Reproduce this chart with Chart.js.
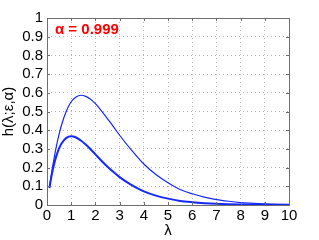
<!DOCTYPE html>
<html>
<head>
<meta charset="utf-8">
<script src="https://cdn.jsdelivr.net/npm/chart.js@4"></script>
<style>
  html, body { margin: 0; padding: 0; background: #fff; }
  #wrap { width: 319px; height: 240px; }
</style>
</head>
<body>
<div id="wrap"><canvas id="hChart" width="319" height="240"></canvas></div>
<script>
// values
const lambdas = [0.1, 0.2, 0.3, 0.4, 0.5, 0.6, 0.8, 1.0, 1.2, 1.4, 1.6, 1.8, 2.0, 2.25, 2.5, 2.75,
                 3.0, 3.5, 4.0, 4.5, 5.0, 5.5, 6.0, 6.5, 7.0, 7.5, 8.0, 8.5, 9.0, 9.5, 10.0];
const upperCurve = [0.095, 0.18, 0.255, 0.322, 0.379, 0.428, 0.503, 0.552, 0.578, 0.587, 0.581, 0.566,
                    0.542, 0.504, 0.461, 0.418, 0.373, 0.292, 0.219, 0.163, 0.119, 0.083, 0.06, 0.042,
                    0.029, 0.02, 0.013, 0.009, 0.006, 0.004, 0.003];
const lowerCurve = [0.09, 0.164, 0.222, 0.268, 0.303, 0.329, 0.359, 0.368, 0.361, 0.345, 0.323, 0.298,
                    0.271, 0.237, 0.205, 0.176, 0.149, 0.106, 0.073, 0.05, 0.034, 0.022, 0.015, 0.01,
                    0.0064, 0.0042, 0.0027, 0.0017, 0.0011, 0.0007, 0.0005];
const annotation = "\u03b1 = 0.999";

const toPoints = (ys) => lambdas.map((x, i) => ({ x: x, y: ys[i] }));

const FONT = "'Liberation Sans', Arial, sans-serif";

// MATLAB style box with inward ticks + red label
const boxPlugin = {
  id: 'matlabBox',
  afterDraw(chart) {
    const ctx = chart.ctx;
    const a = chart.chartArea;
    const xs = chart.scales.x, ys = chart.scales.y;
    ctx.save();
    ctx.strokeStyle = '#6e6e6e';
    ctx.lineWidth = 1;
    ctx.strokeRect(Math.round(a.left) + 0.5, Math.round(a.top) + 0.5,
                   Math.round(a.right - a.left), Math.round(a.bottom - a.top));
    const t = 3;
    ctx.beginPath();
    xs.ticks.forEach(tk => {
      const px = Math.round(xs.getPixelForValue(tk.value)) + 0.5;
      ctx.moveTo(px, a.bottom); ctx.lineTo(px, a.bottom - t);
      ctx.moveTo(px, a.top); ctx.lineTo(px, a.top + t);
    });
    ys.ticks.forEach(tk => {
      const py = Math.round(ys.getPixelForValue(tk.value)) + 0.5;
      ctx.moveTo(a.left, py); ctx.lineTo(a.left + t, py);
      ctx.moveTo(a.right, py); ctx.lineTo(a.right - t, py);
    });
    ctx.stroke();

    ctx.fillStyle = '#ff0000';
    ctx.font = 'bold 15px ' + FONT;
    ctx.textBaseline = 'middle';
    ctx.textAlign = 'left';
    ctx.fillText(annotation, xs.getPixelForValue(0.33), ys.getPixelForValue(0.936));
    ctx.restore();
  }
};

new Chart(document.getElementById('hChart'), {
  type: 'line',
  data: {
    datasets: [
      {
        data: toPoints(upperCurve),
        borderColor: '#1428ff',
        borderWidth: 1.2,
        pointRadius: 0,
        cubicInterpolationMode: 'monotone'
      },
      {
        data: toPoints(lowerCurve),
        borderColor: '#1428ff',
        borderWidth: 2,
        pointRadius: 0,
        cubicInterpolationMode: 'monotone'
      }
    ]
  },
  options: {
    responsive: false,
    animation: false,
    layout: { padding: { left: 0, right: 30, top: 18, bottom: 0 } },
    plugins: {
      legend: { display: false },
      tooltip: { enabled: false }
    },
    scales: {
      x: {
        type: 'linear',
        min: 0,
        max: 10,
        ticks: { stepSize: 1, autoSkip: false, color: '#000', font: { family: FONT, size: 15 }, padding: 2, maxRotation: 0 },
        grid: { color: '#b4b4b4', drawTicks: false, lineWidth: 1 },
        border: { display: false, dash: [1, 3] },
        title: { display: true, text: '\u03bb', color: '#000', font: { family: FONT, size: 15 }, padding: { top: 0, bottom: 0 } },
        afterFit(scale) { scale.height = 35; }
      },
      y: {
        min: 0,
        max: 1,
        ticks: {
          stepSize: 0.1, autoSkip: false, color: '#000', font: { family: FONT, size: 15 }, padding: 4,
          callback: (v) => String(Math.round(v * 10) / 10)
        },
        grid: { color: '#b4b4b4', drawTicks: false, lineWidth: 1 },
        border: { display: false, dash: [1, 3] },
        title: { display: true, text: 'h(\u03bb;\u03b5,\u03b1)', color: '#000', font: { family: FONT, size: 15 }, padding: { top: 0, bottom: 0 } },
        afterFit(scale) { scale.width = 47; }
      }
    }
  },
  plugins: [boxPlugin]
});
</script>
</body>
</html>
